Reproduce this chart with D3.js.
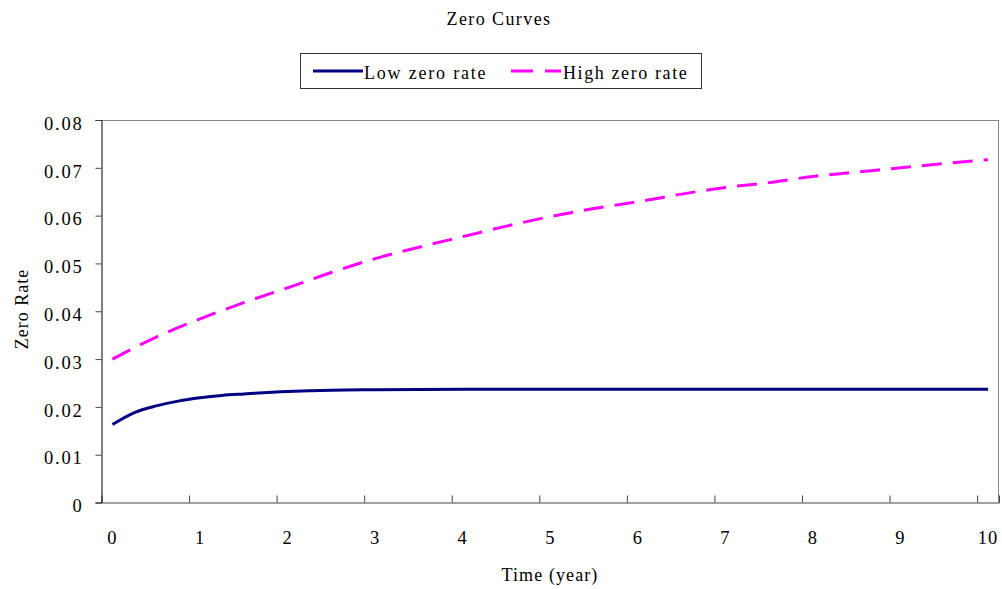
<!DOCTYPE html>
<html>
<head>
<meta charset="utf-8">
<script src="https://cdn.jsdelivr.net/npm/d3@7"></script>
<style>
  body { margin: 0; background: #fff; }
  svg { display: block; }
  text { font-family: "Liberation Serif", "Times New Roman", serif; fill: #000; }
</style>
</head>
<body>
<svg id="chart" width="1002" height="589"></svg>
<script>
// ---- data ----
const chartTitle = "Zero Curves";
const xTitle = "Time (year)";
const yTitle = "Zero Rate";
const seriesNames = ["Low zero rate", "High zero rate"];

const lowT   = [0, 0.25, 0.5, 0.75, 1, 1.25, 1.5, 2, 2.5, 3, 4, 5, 6, 7, 8, 9, 10];
const lowV   = [0.0163, 0.0188, 0.0202, 0.0212, 0.0219, 0.0224, 0.0227, 0.0232, 0.0235, 0.0236, 0.0237, 0.0237, 0.0237, 0.0237, 0.0237, 0.0237, 0.0237];

const highT  = [0, 0.5, 1, 1.5, 2, 2.5, 3, 3.5, 4, 4.5, 5, 5.5, 6, 6.5, 7, 7.5, 8, 8.5, 9, 9.5, 10];
const highV  = [0.0300, 0.0346, 0.0384, 0.0418, 0.0449, 0.0481, 0.0510, 0.0534, 0.0556, 0.0578, 0.0598, 0.0615, 0.0629, 0.0645, 0.0659, 0.0669, 0.0682, 0.0691, 0.0700, 0.0709, 0.0717];

const xTickValues = [0, 1, 2, 3, 4, 5, 6, 7, 8, 9, 10];
const yTickValues = [0, 0.01, 0.02, 0.03, 0.04, 0.05, 0.06, 0.07, 0.08];
const yTickLabels = ["0", "0.01", "0.02", "0.03", "0.04", "0.05", "0.06", "0.07", "0.08"];

// ---- layout ----
const svg = d3.select("#chart");
const plot = { left: 101.5, right: 999, top: 120, bottom: 502.5 };

const x = d3.scaleLinear().domain([-0.125, 10.125]).range([plot.left, plot.right]);
const y = d3.scaleLinear().domain([0, 0.08]).range([plot.bottom, plot.top]);

// Title
svg.append("text")
  .attr("x", 499).attr("y", 25)
  .attr("text-anchor", "middle")
  .style("font-size", "18px").style("letter-spacing", "1.4px")
  .text(chartTitle);

// Plot frame (top/right light)
svg.append("line").attr("x1", plot.left).attr("x2", plot.right).attr("y1", plot.top + 0.5).attr("y2", plot.top + 0.5)
  .attr("stroke", "#888").attr("stroke-width", 1);
svg.append("line").attr("x1", plot.right - 0.5).attr("x2", plot.right - 0.5).attr("y1", plot.top).attr("y2", plot.bottom)
  .attr("stroke", "#888").attr("stroke-width", 1);

// Y axis
const yAxis = d3.axisLeft(y).tickValues(yTickValues).tickSize(6).tickPadding(12)
  .tickFormat((d, i) => yTickLabels[i]);
const gy = svg.append("g").attr("transform", `translate(${plot.left},0)`).call(yAxis);
gy.select(".domain").attr("stroke", "#000");
gy.selectAll(".tick line").attr("stroke", "#444");
gy.selectAll(".tick text")
  .attr("dy", "0.5em")
  .style("font-size", "18.5px").style("letter-spacing", "1.8px")
  .style("font-family", "'Liberation Serif', serif").attr("fill", "#000");

// X axis (ticks between categories, labels on the values)
const xAxis = d3.axisBottom(x).tickValues(xTickValues.map(v => v - 0.125)).tickSize(-7).tickFormat("");
const gx = svg.append("g").attr("transform", `translate(0,${plot.bottom})`).call(xAxis);
gx.select(".domain").attr("stroke", "#444");
gx.selectAll(".tick line").attr("stroke", "#444");
svg.append("g").selectAll("text").data(xTickValues).join("text")
  .attr("x", d => x(d)).attr("y", 544)
  .attr("text-anchor", "middle")
  .style("font-size", "18.5px").style("letter-spacing", "1px")
  .text(d => d);

// Axis titles
svg.append("text")
  .attr("transform", "translate(28,309) rotate(-90)")
  .attr("text-anchor", "middle")
  .style("font-size", "18px").style("letter-spacing", "1px")
  .text(yTitle);
svg.append("text")
  .attr("x", 550).attr("y", 581)
  .attr("text-anchor", "middle")
  .style("font-size", "18px").style("letter-spacing", "1.1px")
  .text(xTitle);

// Lines
const line = d3.line().x(d => x(d[0])).y(d => y(d[1])).curve(d3.curveMonotoneX);
const lowData = lowT.map((t, i) => [t, lowV[i]]);
const highData = highT.map((t, i) => [t, highV[i]]);

svg.append("path").datum(highData)
  .attr("d", line).attr("fill", "none")
  .attr("stroke", "#FF00FF").attr("stroke-width", 3)
  .attr("stroke-dasharray", "20,11");
svg.append("path").datum(lowData)
  .attr("d", line).attr("fill", "none")
  .attr("stroke", "#000080").attr("stroke-width", 3);

// Legend
const lg = svg.append("g");
lg.append("rect").attr("x", 300.5).attr("y", 53.5).attr("width", 401).attr("height", 35)
  .attr("fill", "#fff").attr("stroke", "#333").attr("stroke-width", 1);
lg.append("line").attr("x1", 313).attr("x2", 363).attr("y1", 71).attr("y2", 71)
  .attr("stroke", "#000080").attr("stroke-width", 3);
lg.append("text").attr("x", 364).attr("y", 79)
  .style("font-size", "18px").style("letter-spacing", "1.8px").text(seriesNames[0]);
lg.append("line").attr("x1", 511).attr("x2", 561).attr("y1", 71).attr("y2", 71)
  .attr("stroke", "#FF00FF").attr("stroke-width", 3).attr("stroke-dasharray", "22,12");
lg.append("text").attr("x", 563).attr("y", 79)
  .style("font-size", "18px").style("letter-spacing", "1.6px").text(seriesNames[1]);
</script>
</body>
</html>
